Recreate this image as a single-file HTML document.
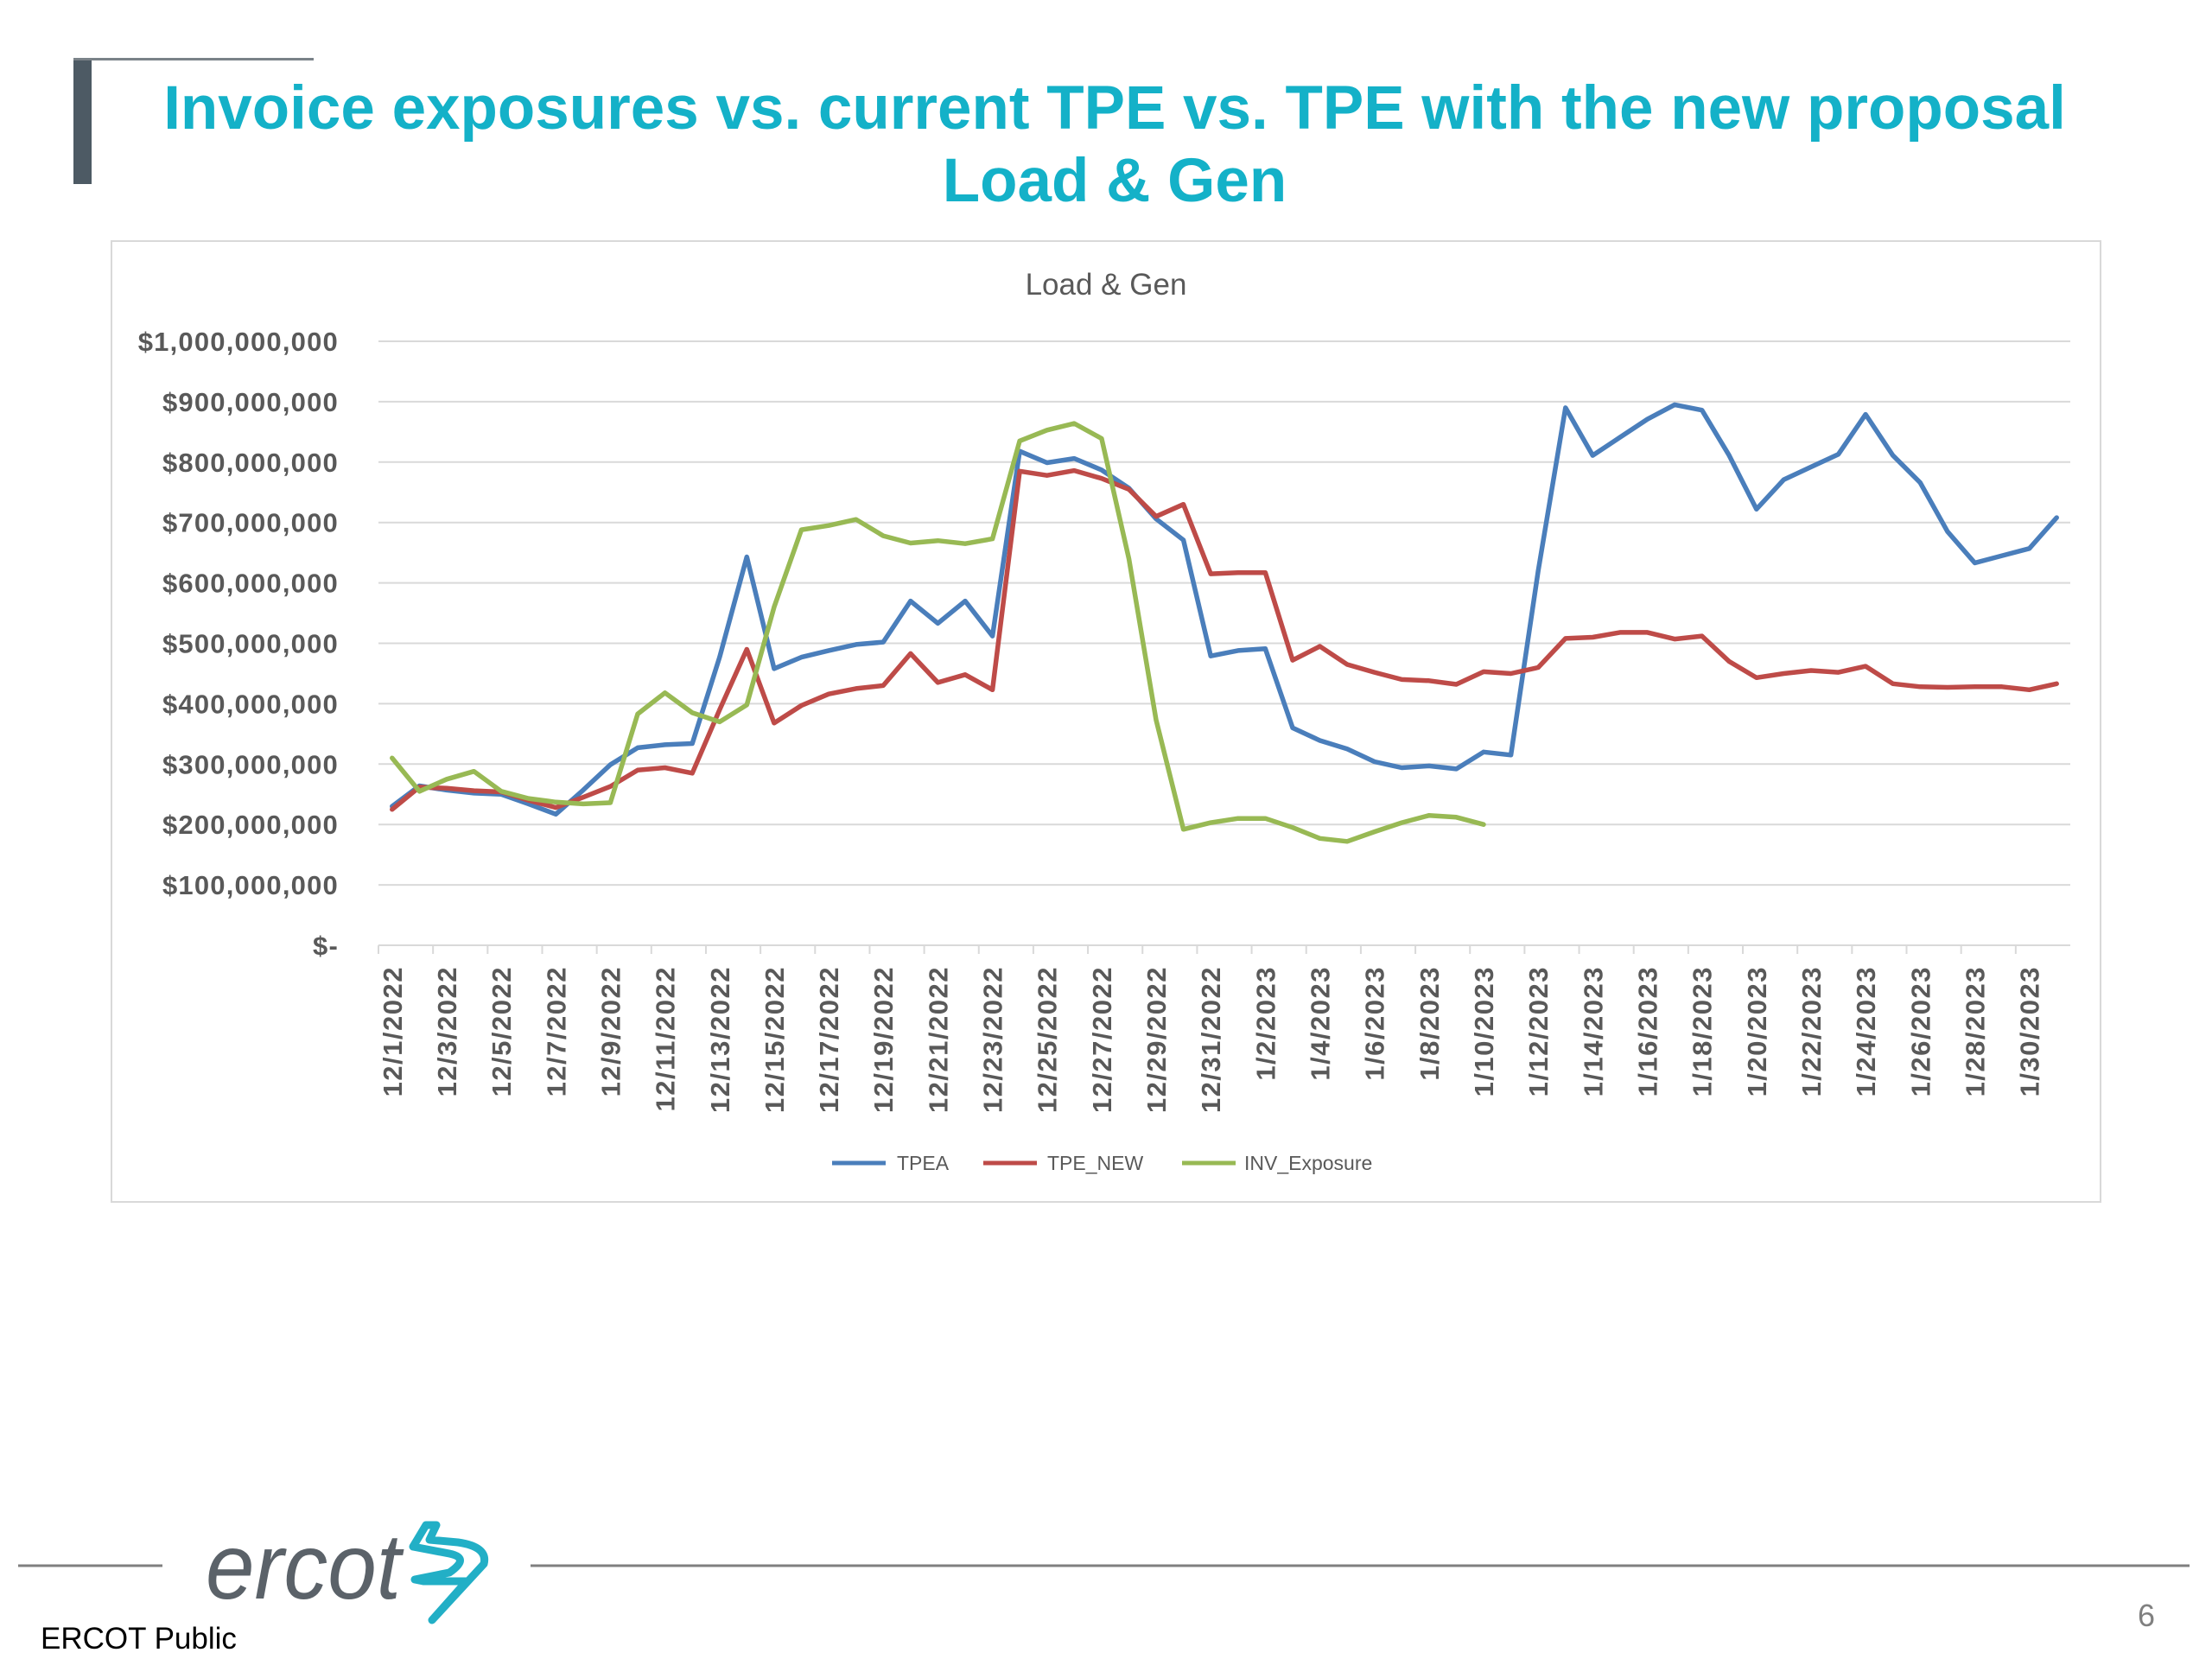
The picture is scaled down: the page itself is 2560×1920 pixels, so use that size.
<!DOCTYPE html>
<html><head><meta charset="utf-8">
<style>
html,body{margin:0;padding:0;background:#fff;}
body{width:2560px;height:1920px;position:relative;overflow:hidden;font-family:"Liberation Sans",sans-serif;}
.title{position:absolute;left:140px;width:2300px;text-align:center;color:#14B1C8;font-weight:bold;font-size:71px;line-height:84px;top:84px;}
</style></head>
<body>
<div style="position:absolute;left:85px;top:67px;width:21px;height:146px;background:#4d5a64;"></div>
<div style="position:absolute;left:85px;top:67px;width:278px;height:3px;background:#7a8288;"></div>
<div class="title">Invoice exposures vs. current TPE vs. TPE with the new proposal<br>Load &amp; Gen</div>

<svg id="chart" width="2560" height="1920" style="position:absolute;left:0;top:0" xmlns="http://www.w3.org/2000/svg">
<rect x="129" y="279" width="2302" height="1112" fill="#fff" stroke="#d9d9d9" stroke-width="2"/>
<text x="1280" y="341" text-anchor="middle" font-family="Liberation Sans, sans-serif" font-size="35" fill="#595959">Load &amp; Gen</text>
<g id="grid"></g><g id="ylabels"></g><g id="xaxis"></g><g id="series"></g>
<g font-family="Liberation Sans, sans-serif" font-size="23" fill="#595959">
<line x1="963" y1="1346" x2="1025" y2="1346" stroke="#4A7EBB" stroke-width="5"/>
<text x="1038" y="1354">TPEA</text>
<line x1="1138" y1="1346" x2="1200" y2="1346" stroke="#BE4B48" stroke-width="5"/>
<text x="1212" y="1354">TPE_NEW</text>
<line x1="1368" y1="1346" x2="1430" y2="1346" stroke="#98B954" stroke-width="5"/>
<text x="1440" y="1354">INV_Exposure</text>
</g>
<line x1="21" y1="1812" x2="188" y2="1812" stroke="#7f7f7f" stroke-width="3"/>
<line x1="614" y1="1812" x2="2534" y2="1812" stroke="#7f7f7f" stroke-width="3"/>
<text x="238" y="1850" font-family="Liberation Sans, sans-serif" font-style="italic" font-size="108" fill="#5b6269" textLength="226" lengthAdjust="spacingAndGlyphs">ercot</text>
<path d="M493 1765 L478 1790 L520 1798 Q545 1803 520 1820 L480 1828 L490 1830 L540 1830 L500 1875 L560 1810 Q565 1790 530 1785 L497 1782 L505 1765 Z" fill="none" stroke="#22AFC6" stroke-width="9" stroke-linejoin="round"/>
<text x="47" y="1908" font-family="Liberation Sans, sans-serif" font-size="35" fill="#000">ERCOT Public</text>
<text x="2474" y="1882" font-family="Liberation Sans, sans-serif" font-size="36" fill="#808080">6</text>
</svg>

<script>
const categories = [];
for (let d = 1; d <= 31; d++) categories.push('12/' + d + '/2022');
for (let d = 1; d <= 31; d++) categories.push('1/' + d + '/2023');
const yTicks = [0,100,200,300,400,500,600,700,800,900,1000];
const yTickLabels = ['$-','$100,000,000','$200,000,000','$300,000,000','$400,000,000','$500,000,000','$600,000,000','$700,000,000','$800,000,000','$900,000,000','$1,000,000,000'];
const tpea = [230,264,257,252,250,234,217,257,299,327,332,334,477,643,458,477,488,498,502,570,533,570,512,818,799,806,787,757,706,671,479,488,491,360,339,325,304,294,297,292,320,315,620,890,811,841,871,895,886,811,722,771,792,813,879,811,766,685,633,645,657,708];
const tpeNew = [225,262,260,256,254,240,228,245,263,290,294,285,390,490,368,397,416,425,430,483,435,448,423,785,778,786,773,755,710,730,615,617,617,472,495,465,452,440,438,432,453,450,460,508,510,518,518,507,512,470,443,450,455,452,462,433,428,427,428,428,423,433];
const invExposure = [310,255,275,288,255,243,237,234,236,383,418,385,370,398,560,688,695,705,678,666,670,665,673,835,853,864,839,640,373,192,203,210,210,195,177,172,188,203,215,212,200];

const NS = 'http://www.w3.org/2000/svg';
const L = 438, R = 2396, Y0 = 1094, Y1 = 395;
const band = (R - L) / categories.length;
const xOf = i => L + band * (i + 0.5);
const yOf = v => Y0 - (v / 1000) * (Y0 - Y1);
function mk(tag, attrs, parent) {
  const e = document.createElementNS(NS, tag);
  for (const k in attrs) e.setAttribute(k, attrs[k]);
  parent.appendChild(e);
  return e;
}
const grid = document.getElementById('grid');
const ylab = document.getElementById('ylabels');
yTicks.forEach((t, i) => {
  if (t > 0) {
    const g = mk('line', {x1: L, x2: R, y1: yOf(t), y2: yOf(t), stroke: '#d9d9d9', 'stroke-width': 2}, grid);
    
    
  }
  const tx = mk('text', {x: 392, y: yOf(t) + 11, 'text-anchor': 'end', 'font-family': 'Liberation Sans, sans-serif', 'font-size': 31, 'font-weight': 'bold', 'letter-spacing': 1.2, fill: '#595959'}, ylab);
  tx.textContent = yTickLabels[i];
  
  
});
const xa = document.getElementById('xaxis');
const ax = mk('line', {x1: L, x2: R, y1: Y0, y2: Y0, stroke: '#d9d9d9', 'stroke-width': 2}, xa);


categories.forEach((c, i) => {
  if (i % 2 === 0) {
    const tk = mk('line', {x1: L + band * i, x2: L + band * i, y1: Y0, y2: Y0 + 10, stroke: '#d9d9d9', 'stroke-width': 2}, xa);
    
    
    const x = xOf(i) + 11, y = 1118;
    const tx = mk('text', {x: x, y: y, transform: 'rotate(-90 ' + x + ' ' + y + ')', 'text-anchor': 'end', 'font-family': 'Liberation Sans, sans-serif', 'font-size': 31, 'font-weight': 'bold', 'letter-spacing': 1.5, fill: '#595959'}, xa);
    tx.textContent = c;
    
    
  }
});
const sg = document.getElementById('series');
function line(vals, color, name) {
  const pts = vals.map((v, i) => xOf(i).toFixed(1) + ',' + yOf(v).toFixed(1)).join(' ');
  const p = mk('polyline', {points: pts, fill: 'none', stroke: color, 'stroke-width': 5.5, 'stroke-linejoin': 'round', 'stroke-linecap': 'round'}, sg);
  
  
}
line(tpea, '#4A7EBB', 'series-tpea');
line(tpeNew, '#BE4B48', 'series-tpe-new');
line(invExposure, '#98B954', 'series-inv-exposure');
</script>
</body></html>
